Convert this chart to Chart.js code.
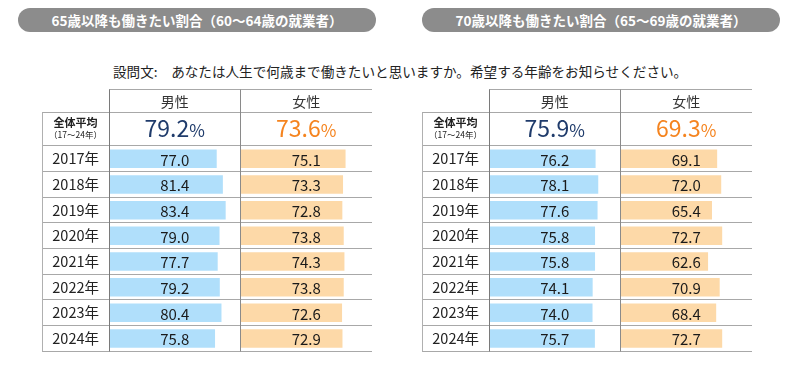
<!DOCTYPE html>
<html><head><meta charset="utf-8">
<script src="https://cdn.jsdelivr.net/npm/chart.js@4/dist/chart.umd.min.js"></script>
<style>
body{margin:0;width:800px;height:378px;background:#fff;position:relative;overflow:hidden;font-family:"Noto Sans CJK JP","Noto Sans",sans-serif;}
.pill{position:absolute;top:8px;height:24px;border-radius:12px;background:#8c8c8c;color:#fff;font-weight:bold;font-size:13.5px;line-height:24px;text-align:center;white-space:nowrap;}
.q{position:absolute;top:61px;left:113px;font-size:13.6px;color:#222;white-space:nowrap;line-height:20px;}
canvas{position:absolute;}
</style>
</head><body>
<div class="pill" id="t1" style="left:18px;width:358px;"></div>
<div class="pill" id="t2" style="left:422px;width:358px;"></div>
<div class="q" id="q"></div>
<canvas id="c1" width="331" height="282" style="left:41px;top:88px;"></canvas>
<canvas id="c2" width="331" height="282" style="left:421px;top:88px;"></canvas>
<script>
const titles = ['65歳以降も働きたい割合（60～64歳の就業者）', '70歳以降も働きたい割合（65～69歳の就業者）'];
const question = '設問文:　あなたは人生で何歳まで働きたいと思いますか。希望する年齢をお知らせください。';
const years = ['2017年','2018年','2019年','2020年','2021年','2022年','2023年','2024年'];
const colHeads = ['男性','女性'];
const avgLabel = '全体平均';
const avgSub = '（17～24年）';
// 65歳以降 (60～64歳の就業者)
const male65 = [77.0, 81.4, 83.4, 79.0, 77.7, 79.2, 80.4, 75.8];
const female65 = [75.1, 73.3, 72.8, 73.8, 74.3, 73.8, 72.6, 72.9];
const avg65 = [79.2, 73.6];
// 70歳以降 (65～69歳の就業者)
const male70 = [76.2, 78.1, 77.6, 75.8, 75.8, 74.1, 74.0, 75.7];
const female70 = [69.1, 72.0, 65.4, 72.7, 62.6, 70.9, 68.4, 72.7];
const avg70 = [75.9, 69.3];
const axisMax = 94;

document.getElementById('t1').textContent = titles[0];
document.getElementById('t2').textContent = titles[1];
document.getElementById('q').textContent = question;

const FONT = '"Noto Sans CJK JP","Noto Sans",sans-serif';
Chart.defaults.font.family = FONT;

const tablePlugin = {
  id: 'table',
  afterDatasetsDraw(chart, args, opts) {
    const {ctx, chartArea: ca, scales} = chart;
    const y = scales.y, xm = scales.xm, xf = scales.xf;
    const L = y.left, A = xm.left, B = xf.left, R = xf.right;
    const top0 = ca.top - opts.headH - opts.avgH, top1 = ca.top - opts.avgH;
    const n = chart.data.labels.length;
    const step = y.getPixelForValue(1) - y.getPixelForValue(0);
    const bounds = [];
    for (let i = 0; i < n; i++) bounds.push(y.getPixelForValue(i) - step / 2);
    bounds.push(y.getPixelForValue(n - 1) + step / 2);
    const bottom = bounds[n];
    const p = v => Math.floor(v) + 0.5;
    ctx.save();
    // value labels centered in each column
    ctx.textAlign = 'center'; ctx.textBaseline = 'middle';
    ctx.fillStyle = '#1a1a1a';
    ctx.font = '15px ' + FONT;
    chart.data.datasets.forEach((ds, di) => {
      const meta = chart.getDatasetMeta(di);
      const sc = scales[ds.xAxisID];
      meta.data.forEach((el, i) => {
        ctx.fillText(ds.data[i].toFixed(1), (sc.left + sc.right) / 2, el.y + 1);
      });
    });
    // header row
    ctx.fillStyle = '#333';
    ctx.font = '14px ' + FONT;
    ctx.fillText(colHeads[0], (xm.left + xm.right) / 2, (top0 + top1) / 2 + 1);
    ctx.fillText(colHeads[1], (xf.left + xf.right) / 2, (top0 + top1) / 2 + 1);
    // average row label
    ctx.fillStyle = '#222';
    ctx.font = 'bold 11px ' + FONT;
    ctx.fillText(avgLabel, (L + A) / 2, top1 + 11);
    ctx.font = '8.5px ' + FONT;
    ctx.fillText(avgSub, (L + A) / 2, top1 + 22.5);
    // average values
    const avgs = opts.avg, cols = [xm, xf], colors = ['#1f3b6b', '#f5841f'];
    ctx.textBaseline = 'alphabetic'; ctx.textAlign = 'left';
    avgs.forEach((v, k) => {
      const numStr = v.toFixed(1);
      ctx.font = '23px ' + FONT;
      const w1 = ctx.measureText(numStr).width;
      ctx.font = '17px ' + FONT;
      const w2 = ctx.measureText('%').width;
      const cx = (cols[k].left + cols[k].right) / 2;
      const x0 = cx - (w1 + w2) / 2;
      const base = top1 + 25;
      ctx.fillStyle = colors[k];
      ctx.font = '23px ' + FONT;
      ctx.fillText(numStr, x0, base);
      ctx.font = '17px ' + FONT;
      ctx.fillText('%', x0 + w1, base);
    });
    // lines
    ctx.lineWidth = 1;
    const line = (x1, y1, x2, y2, c) => { ctx.strokeStyle = c; ctx.beginPath(); ctx.moveTo(x1, y1); ctx.lineTo(x2, y2); ctx.stroke(); };
    const hc = '#a8a8a8';
    line(A, p(top0), R, p(top0), hc);
    line(L, p(top1), R, p(top1), hc);
    bounds.forEach(b => line(L, p(b), R + 1, p(b), hc));
    line(p(L), p(top1), p(L), p(bottom), '#b0b0b0');
    line(p(A), p(top0), p(A), p(bottom), '#7a7a7a');
    line(p(B), p(top0), p(B), p(bottom), '#8a8a8a');
    line(p(R), p(top0), p(R), p(bottom), '#b8b8b8');
    ctx.restore();
  }
};

function makeTable(id, male, female, avg) {
  return new Chart(document.getElementById(id), {
    type: 'bar',
    data: {
      labels: years,
      datasets: [
        { label: colHeads[0], data: male, xAxisID: 'xm', yAxisID: 'y', backgroundColor: '#b0dffb', grouped: false,
          barPercentage: 0.72, categoryPercentage: 1, borderWidth: 0 },
        { label: colHeads[1], data: female, xAxisID: 'xf', yAxisID: 'y', backgroundColor: '#fdd9a8', grouped: false,
          barPercentage: 0.72, categoryPercentage: 1, borderWidth: 0 }
      ]
    },
    options: {
      indexAxis: 'y',
      responsive: false,
      animation: false,
      events: [],
      layout: { padding: { top: 58, left: 1, right: 0, bottom: 1 } },
      scales: {
        y: {
          type: 'category', position: 'left', offset: true,
          grid: { display: false, drawTicks: false },
          border: { display: false },
          ticks: { color: '#222', font: { size: 14.5, family: FONT }, crossAlign: 'center', padding: 10 },
          afterFit(s) { s.width = 67; }
        },
        xm: { type: 'linear', position: 'bottom', min: 0, max: axisMax, stack: 'cols', stackWeight: 1, display: false },
        xf: { type: 'linear', position: 'bottom', min: 0, max: axisMax, stack: 'cols', stackWeight: 1, display: false }
      },
      plugins: {
        legend: { display: false },
        tooltip: { enabled: false },
        table: { headH: 23, avgH: 34, avg: avg }
      }
    },
    plugins: [tablePlugin]
  });
}
makeTable('c1', male65, female65, avg65);
makeTable('c2', male70, female70, avg70);
</script>
</body></html>
